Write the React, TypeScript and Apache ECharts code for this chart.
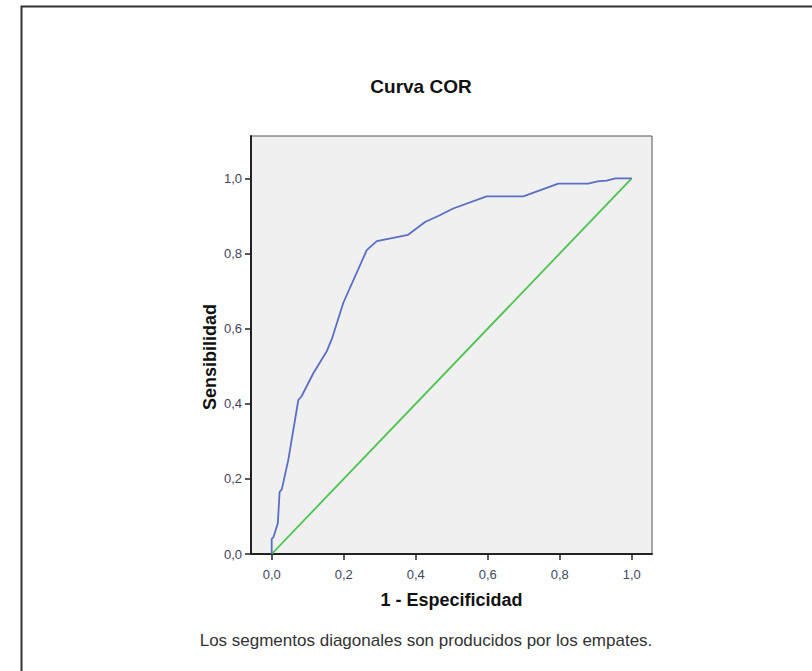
import React, { useEffect, useRef } from "react";
import * as echarts from "echarts";

const tickValues = [0, 0.2, 0.4, 0.6, 0.8, 1.0];
const rocX = [0, 0, 0.005, 0.017, 0.022, 0.028, 0.046, 0.074, 0.083, 0.116, 0.153, 0.168, 0.199, 0.264, 0.292, 0.379, 0.426, 0.467, 0.504, 0.597, 0.699, 0.796, 0.879, 0.905, 0.93, 0.955, 1.0];
const rocY = [0, 0.04, 0.045, 0.082, 0.165, 0.172, 0.25, 0.41, 0.42, 0.482, 0.54, 0.575, 0.669, 0.809, 0.833, 0.85, 0.884, 0.902, 0.92, 0.952, 0.952, 0.986, 0.986, 0.992, 0.994, 1.0, 1.0];
const refX = [0, 1];
const refY = [0, 1];

const fmt = (v: number) => v.toFixed(1).replace(".", ",");

export default function App() {
  const ref = useRef<HTMLDivElement>(null);
  useEffect(() => {
    if (!ref.current) return;
    const chart = echarts.init(ref.current, null, { renderer: "svg" });
    const font = "'Liberation Sans', Arial, sans-serif";
    chart.setOption({
      animation: false,
      backgroundColor: "#ffffff",
      textStyle: { fontFamily: font },
      title: {
        text: "Curva COR",
        left: 416,
        top: 72,
        textAlign: "center",
        textStyle: { fontSize: 19, fontWeight: "bold", color: "#111", fontFamily: font },
      },
      grid: {
        left: 251,
        top: 136,
        width: 401,
        height: 418,
        show: true,
        backgroundColor: "#f0f0f0",
        borderColor: "#555",
        borderWidth: 1,
      },
      xAxis: {
        type: "value",
        min: -0.0575,
        max: 1.0564,
        name: "1 - Especificidad",
        nameLocation: "middle",
        nameGap: 37,
        nameTextStyle: { fontSize: 18, fontWeight: "bold", color: "#111", fontFamily: font },
        axisLine: { show: true, onZero: false, lineStyle: { color: "#222", width: 2 } },
        axisTick: { show: true, customValues: tickValues, length: 6, lineStyle: { color: "#222", width: 1.5 } },
        axisLabel: { customValues: tickValues, formatter: fmt, fontSize: 13, color: "#45455c", margin: 14, fontFamily: font },
        splitLine: { show: false },
      },
      yAxis: {
        type: "value",
        min: 0,
        max: 1.113,
        axisLine: { show: true, onZero: false, lineStyle: { color: "#222", width: 2 } },
        axisTick: { show: true, customValues: tickValues, length: 6, lineStyle: { color: "#222", width: 1.5 } },
        axisLabel: { customValues: tickValues, formatter: fmt, fontSize: 13, color: "#45455c", margin: 9, fontFamily: font },
        splitLine: { show: false },
      },
      graphic: [
        {
          type: "rect",
          shape: { x: 21.5, y: 6.5, width: 1000, height: 1000 },
          style: { fill: "none", stroke: "#333", lineWidth: 2 },
          silent: true,
        },
        {
          type: "text",
          x: 210,
          y: 357,
          rotation: Math.PI / 2,
          style: {
            text: "Sensibilidad",
            fontSize: 18,
            fontWeight: "bold",
            fill: "#111",
            fontFamily: font,
            align: "center",
            verticalAlign: "middle",
          },
        },
        {
          type: "text",
          x: 426,
          y: 640,
          style: {
            text: "Los segmentos diagonales son producidos por los empates.",
            fontSize: 17,
            fill: "#333",
            fontFamily: font,
            align: "center",
            verticalAlign: "middle",
          },
        },
      ],
      series: [
        {
          type: "line",
          data: refX.map((x, i) => [x, refY[i]]),
          showSymbol: false,
          lineStyle: { color: "#4cc34f", width: 1.8 },
          z: 2,
        },
        {
          type: "line",
          data: rocX.map((x, i) => [x, rocY[i]]),
          showSymbol: false,
          lineStyle: { color: "#5a6ec4", width: 1.8 },
          z: 3,
        },
      ],
    });
    return () => chart.dispose();
  }, []);
  return <div ref={ref} style={{ position: "fixed", left: 0, top: 0, width: 812, height: 671 }} />;
}
